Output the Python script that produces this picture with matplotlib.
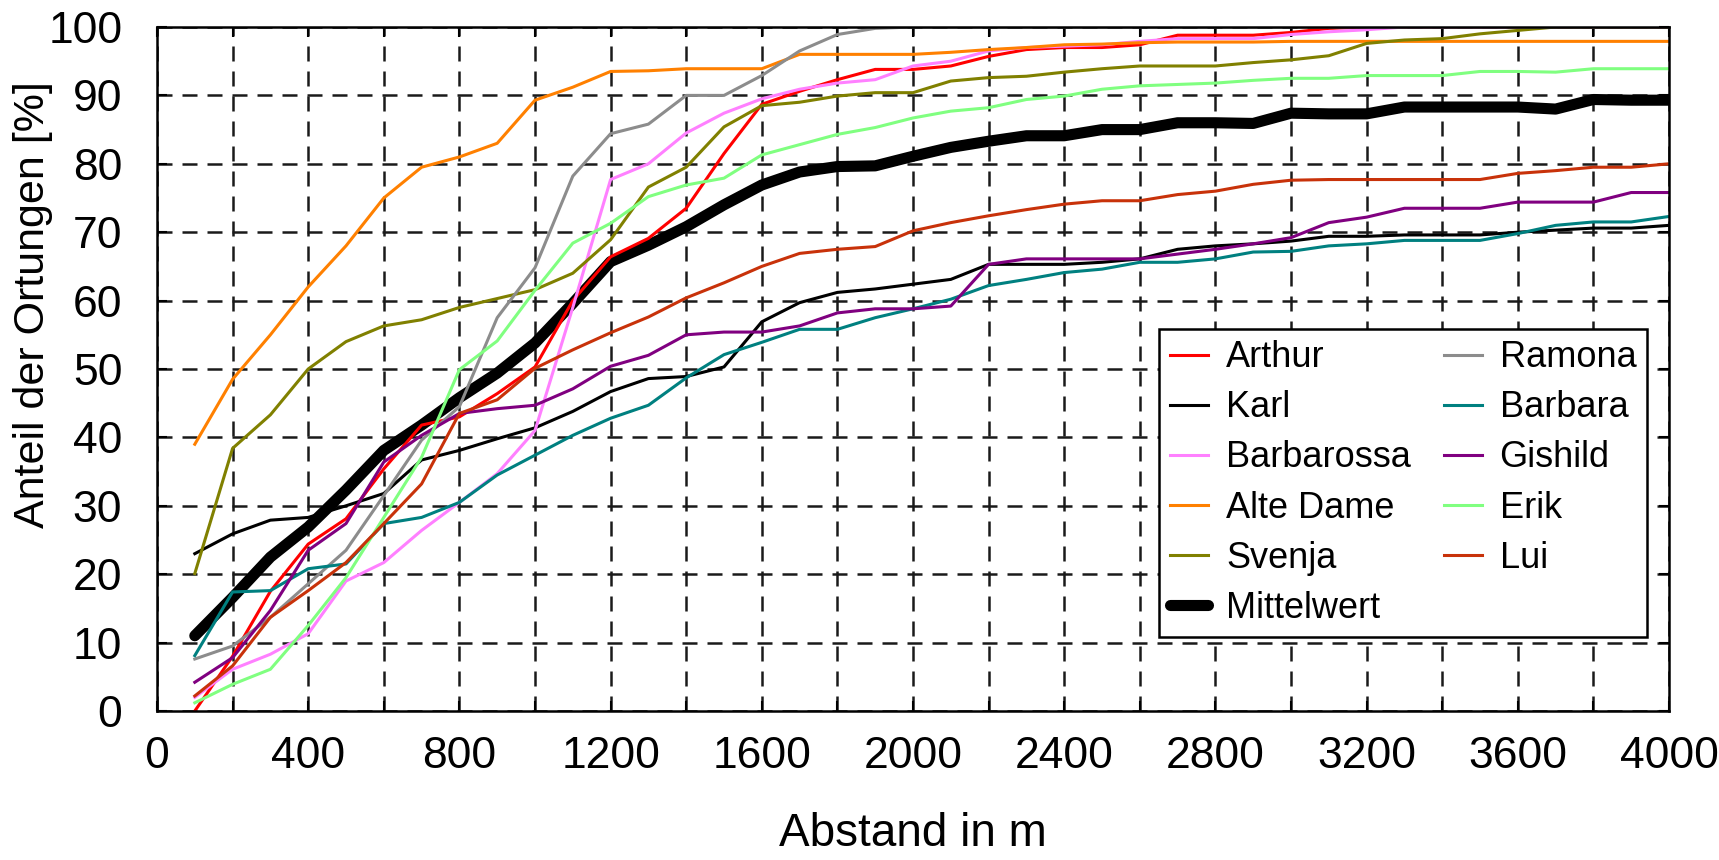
import matplotlib
matplotlib.use('Agg')
import matplotlib.pyplot as plt
import numpy as np
from matplotlib.ticker import MultipleLocator

plt.rcParams['font.family'] = ['Liberation Sans', 'DejaVu Sans']

# distance in m
abstand = list(range(100, 4001, 100))

arthur = [0, 8, 17.5, 24.4, 28.1, 35.4, 41.8, 43, 46.4, 50.3,
          60, 66.4, 69.1, 73.5, 81.5, 88.7, 90.6, 92.3, 93.8, 93.8,
          94.3, 95.7, 96.7, 97, 97, 97.4, 98.8, 98.8, 98.8, 99.2,
          99.8, 100, 100, 100, 100, 100, 100, 100, 100, 100]
karl = [23, 25.9, 27.9, 28.3, 30, 31.8, 36.7, 38.1, 39.8, 41.4,
        43.8, 46.7, 48.6, 48.9, 50.3, 56.9, 59.7, 61.2, 61.7, 62.4,
        63.1, 65.3, 65.3, 65.3, 65.6, 66.1, 67.5, 68, 68.3, 68.7,
        69.4, 69.4, 69.6, 69.6, 69.6, 70, 70.3, 70.6, 70.6, 71]
barbarossa = [2, 6.1, 8.3, 11.3, 19, 21.7, 26.4, 30.5, 34.7, 41,
              59, 77.7, 80, 84.5, 87.4, 89.5, 90.9, 91.8, 92.3, 94.3,
              95, 96.5, 97, 97.2, 97.4, 97.9, 98.3, 98.3, 98.3, 98.9,
              99.3, 99.6, 100, 100, 100, 100, 100, 100, 100, 100]
alte_dame = [39, 48.5, 55, 62, 68, 75, 79.5, 81, 83, 89.3,
             91.2, 93.5, 93.6, 93.9, 93.9, 93.9, 96, 96, 96, 96,
             96.3, 96.7, 97, 97.4, 97.5, 97.7, 97.8, 97.8, 97.8, 97.9,
             97.9, 97.9, 97.9, 97.9, 97.9, 97.9, 97.9, 97.9, 97.9, 97.9]
svenja = [20.1, 38.4, 43.3, 50, 54, 56.3, 57.2, 59, 60.3, 61.6,
          64, 68.9, 76.6, 79.5, 85.4, 88.5, 89, 89.9, 90.4, 90.4,
          92.1, 92.6, 92.8, 93.4, 93.9, 94.3, 94.3, 94.3, 94.8, 95.2,
          95.8, 97.6, 98.1, 98.3, 99, 99.5, 100, 100, 100, 100]
mittelwert = [11, 16.6, 22.5, 26.9, 32.3, 38.1, 41.8, 45.8, 49.4, 53.8,
              59.6, 65.7, 68.1, 70.8, 74, 76.9, 78.8, 79.6, 79.7, 81.1,
              82.4, 83.3, 84.1, 84.1, 85, 85, 86, 86, 85.9, 87.4,
              87.3, 87.3, 88.3, 88.3, 88.3, 88.3, 88, 89.4, 89.3, 89.3]
ramona = [7.6, 9.5, 13.7, 18.6, 23.5, 31.5, 39.6, 44.5, 57.5, 64.8,
          78.2, 84.4, 85.8, 90, 90, 92.9, 96.5, 98.9, 99.8, 100,
          100, 100, 100, 100, 100, 100, 100, 100, 100, 100,
          100, 100, 100, 100, 100, 100, 100, 100, 100, 100]
barbara = [8.1, 17.4, 17.6, 20.8, 21.5, 27.4, 28.3, 30.5, 34.5, 37.4,
           40.3, 42.8, 44.7, 48.7, 52.1, 53.9, 55.8, 55.8, 57.5, 58.8,
           60.2, 62.2, 63.1, 64.1, 64.6, 65.6, 65.6, 66.1, 67.1, 67.2,
           68, 68.3, 68.8, 68.8, 68.8, 69.8, 71, 71.5, 71.5, 72.3]
gishild = [4.2, 7.8, 14.7, 23.5, 27.4, 36.4, 40.3, 43.5, 44.2, 44.7,
           47.1, 50.4, 52, 55, 55.4, 55.4, 56.3, 58.2, 58.8, 58.8,
           59.2, 65.3, 66.1, 66.1, 66.1, 66.1, 66.8, 67.5, 68.3, 69.2,
           71.4, 72.2, 73.5, 73.5, 73.5, 74.4, 74.4, 74.4, 75.8, 75.8]
erik = [1.2, 3.9, 6.1, 12.5, 19.5, 28.3, 37.1, 49.9, 54.1, 61.5,
        68.4, 71.3, 75.2, 76.9, 77.9, 81.3, 82.8, 84.3, 85.3, 86.7,
        87.7, 88.2, 89.4, 89.9, 90.9, 91.4, 91.6, 91.8, 92.2, 92.5,
        92.5, 92.9, 92.9, 92.9, 93.5, 93.5, 93.4, 93.9, 93.9, 93.9]
lui = [2.2, 6.6, 13.7, 17.6, 21.7, 27.4, 33.2, 43.5, 45.5, 50.1,
       52.8, 55.3, 57.6, 60.4, 62.6, 65, 66.9, 67.5, 67.9, 70.2,
       71.4, 72.4, 73.3, 74.1, 74.6, 74.6, 75.5, 76, 77, 77.6,
       77.7, 77.7, 77.7, 77.7, 77.7, 78.6, 79, 79.5, 79.5, 80]

fig, ax = plt.subplots(figsize=(17.19, 8.6), dpi=100)
fig.subplots_adjust(left=157/1719, right=1669/1719, top=1-27/860, bottom=1-711/860)

thin = 2.2
ax.plot(abstand, arthur, color='#ff0000', lw=thin, label='Arthur')
ax.plot(abstand, karl, color='#000000', lw=thin, label='Karl')
ax.plot(abstand, barbarossa, color='#ff80ff', lw=thin, label='Barbarossa')
ax.plot(abstand, alte_dame, color='#ff8000', lw=thin, label='Alte Dame')
ax.plot(abstand, svenja, color='#808000', lw=thin, label='Svenja')
ax.plot(abstand, mittelwert, color='#000000', lw=8, label='Mittelwert',
        solid_capstyle='round', zorder=1.9)
ax.plot(abstand, ramona, color='#8c8c8c', lw=thin, label='Ramona')
ax.plot(abstand, barbara, color='#008080', lw=thin, label='Barbara')
ax.plot(abstand, gishild, color='#800080', lw=thin, label='Gishild')
ax.plot(abstand, erik, color='#80ff80', lw=thin, label='Erik')
ax.plot(abstand, lui, color='#c8320a', lw=thin, label='Lui')

ax.set_xlim(0, 4000)
ax.set_ylim(0, 100)
ax.xaxis.set_major_locator(MultipleLocator(400))
ax.xaxis.set_minor_locator(MultipleLocator(200))
ax.yaxis.set_major_locator(MultipleLocator(10))

ax.grid(True, which='both', color='#1a1a1a', lw=1.8, linestyle=(0, (6, 4)))
ax.set_axisbelow(True)

ax.tick_params(axis='both', which='both', direction='in', length=7, width=1.5,
               right=True, top=True, labelsize=32)
ax.tick_params(axis='y', pad=25)
ax.tick_params(axis='x', pad=18)
for sp in ax.spines.values():
    sp.set_linewidth(1.8)

ax.set_xlabel('Abstand in m', fontsize=33)
ax.set_ylabel('Anteil der Ortungen [%]', fontsize=31)
ax.xaxis.set_label_coords(0.5, -0.147)
ax.yaxis.set_label_coords(-0.069, 0.594)

leg = ax.legend(ncol=2, fontsize=26, loc='upper left', bbox_to_anchor=(0.663, 0.558),
                borderaxespad=0, frameon=True, fancybox=False, framealpha=1,
                edgecolor='black', handlelength=1.05, handletextpad=0.5,
                columnspacing=0.9, labelspacing=0.42, borderpad=0.3)
leg.get_frame().set_linewidth(1.8)

fig.savefig('out.png', dpi=100)
